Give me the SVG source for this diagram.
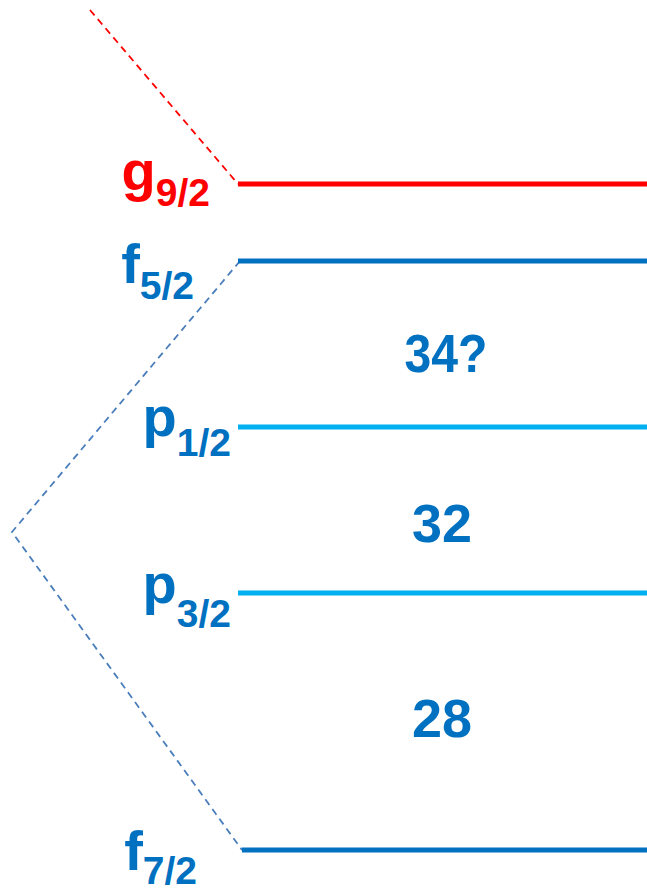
<svg xmlns="http://www.w3.org/2000/svg" width="647" height="892" viewBox="0 0 647 892">
<style>
.lvl{stroke-width:5;fill:none}
.dash{fill:none;stroke-width:1.8;stroke-dasharray:7 5}
.lab{font-family:"Liberation Sans",Arial,sans-serif;font-weight:bold;font-size:56px;text-anchor:end}
.sub{font-size:39px}
.num{font-family:"Liberation Sans",Arial,sans-serif;font-weight:bold;font-size:54px;fill:#0070C0;text-anchor:middle}
</style>
<rect width="647" height="892" fill="#fff"/>
<g id="connectors">
<path class="dash" d="M90 10 L238 184" stroke="#FF0000"/>
<path class="dash" d="M240 261 L12 532 L242 850" stroke="#4A7EBB"/>
</g>
<g id="g92">
<line class="lvl" x1="238" y1="184" x2="647" y2="184" stroke="#FF0000"/>
<text class="lab" x="210" y="190" fill="#FF0000">g<tspan class="sub" dy="16">9/2</tspan></text>
</g>
<g id="f52">
<line class="lvl" x1="238" y1="261" x2="647" y2="261" stroke="#0070C0"/>
<text class="lab" x="194" y="283" fill="#0070C0">f<tspan class="sub" dy="16">5/2</tspan></text>
</g>
<g id="p12">
<line class="lvl" x1="238" y1="427" x2="647" y2="427" stroke="#00B0F0"/>
<text class="lab" x="231" y="436" fill="#0070C0">p<tspan class="sub" dy="20">1/2</tspan></text>
</g>
<g id="p32">
<line class="lvl" x1="238" y1="593" x2="647" y2="593" stroke="#00B0F0"/>
<text class="lab" x="231" y="603" fill="#0070C0">p<tspan class="sub" dy="24">3/2</tspan></text>
</g>
<g id="f72">
<line class="lvl" x1="242" y1="850" x2="647" y2="850" stroke="#0070C0"/>
<text class="lab" x="197" y="870" fill="#0070C0">f<tspan class="sub" dy="14">7/2</tspan></text>
</g>
<g id="gap34"><text class="num" x="446" y="372" textLength="83" lengthAdjust="spacingAndGlyphs">34?</text></g>
<g id="gap32"><text class="num" x="442" y="542" textLength="60" lengthAdjust="spacingAndGlyphs">32</text></g>
<g id="gap28"><text class="num" x="442" y="737" textLength="60" lengthAdjust="spacingAndGlyphs">28</text></g>
</svg>
